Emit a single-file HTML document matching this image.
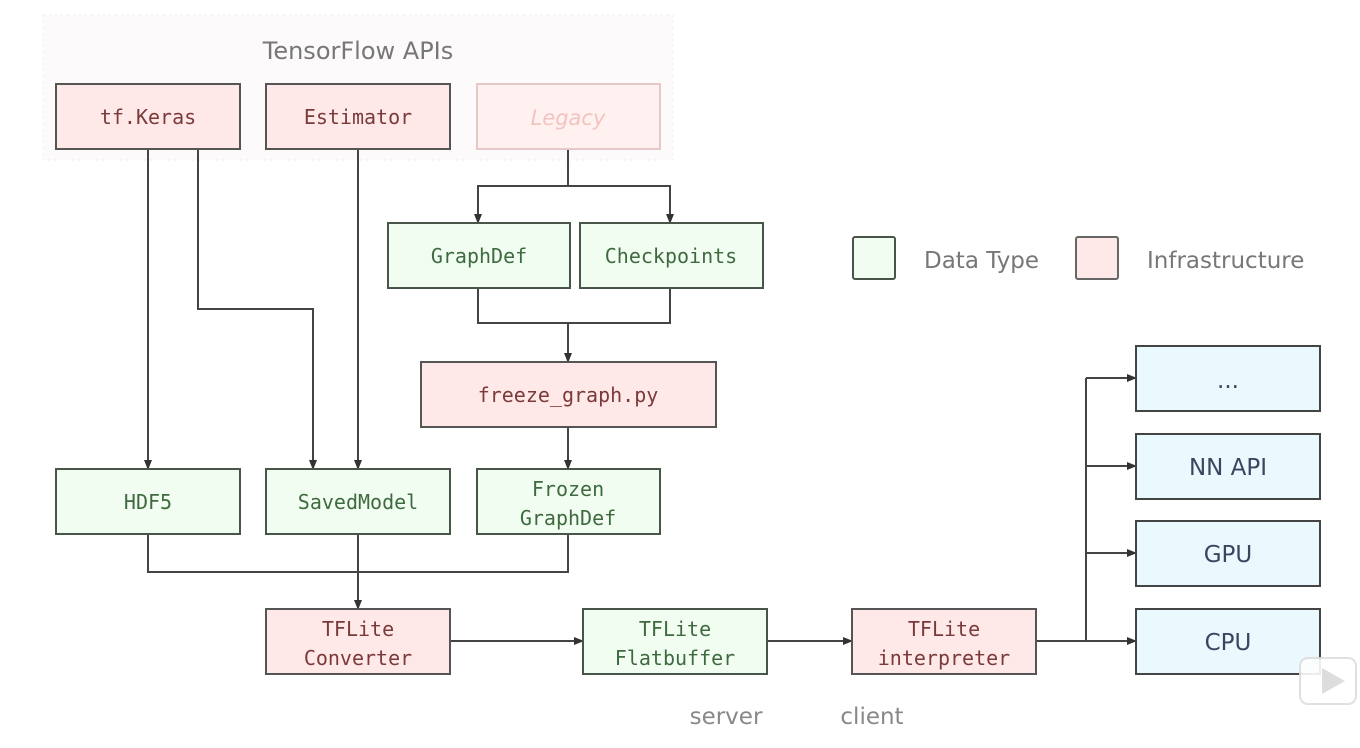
<!DOCTYPE html>
<html><head><meta charset="utf-8"><style>
html,body{margin:0;padding:0;background:#fff;}
svg{display:block;}
.m{font-family:"DejaVu Sans Mono","Liberation Mono",monospace;font-size:20px;text-anchor:middle;}
.s{font-family:"DejaVu Sans","Liberation Sans",sans-serif;text-anchor:middle;}
.r rect{fill:#ffe9e8;stroke:#555;stroke-width:2;}
.g rect{fill:#f1fdf1;stroke:#4a554a;stroke-width:2;}
.b rect{fill:#eaf9fd;stroke:#444;stroke-width:2;}
.rt{fill:#7a3a3a;}
.gt{fill:#3f6a3f;}
.bt{fill:#3a4660;font-size:23px;}
line,polyline{stroke:#444;stroke-width:2;fill:none;}
</style></head><body>
<svg width="1360" height="748" viewBox="0 0 1360 748" xmlns="http://www.w3.org/2000/svg">
<defs><marker id="a" markerWidth="10" markerHeight="10" refX="9" refY="5" orient="auto" markerUnits="userSpaceOnUse"><path d="M0,1 L10,5 L0,9 z" fill="#333"/></marker></defs>
<rect x="43" y="15" width="630" height="145" fill="#fcfafb" stroke="#eee" stroke-dasharray="2,4"/>
<text x="358" y="59" class="s" font-size="24" fill="#777">TensorFlow APIs</text>

<line x1="148" y1="149" x2="148" y2="469" marker-end="url(#a)"/>
<polyline points="198,149 198,309 313,309 313,469" marker-end="url(#a)"/>
<line x1="358" y1="149" x2="358" y2="469" marker-end="url(#a)"/>
<line x1="568" y1="149" x2="568" y2="186" stroke-width="3"/>
<polyline points="478,223 478,186 670,186 670,223"/>
<line x1="478" y1="200" x2="478" y2="223" marker-end="url(#a)"/>
<line x1="670" y1="200" x2="670" y2="223" marker-end="url(#a)"/>
<polyline points="478,288 478,323 670,323 670,288"/>
<line x1="568" y1="323" x2="568" y2="362" marker-end="url(#a)" stroke-width="2.5"/>
<line x1="568" y1="427" x2="568" y2="469" marker-end="url(#a)"/>
<polyline points="148,534 148,572 568,572 568,534"/>
<line x1="358" y1="534" x2="358" y2="609" marker-end="url(#a)" stroke-width="3"/>
<line x1="450" y1="641" x2="583" y2="641" marker-end="url(#a)"/>
<line x1="767" y1="641" x2="852" y2="641" marker-end="url(#a)" stroke="#777"/>
<line x1="1036" y1="641" x2="1086" y2="641" stroke-width="3"/>
<line x1="1086" y1="378" x2="1086" y2="641"/>
<line x1="1086" y1="378" x2="1136" y2="378" marker-end="url(#a)"/>
<line x1="1086" y1="466" x2="1136" y2="466" marker-end="url(#a)"/>
<line x1="1086" y1="553" x2="1136" y2="553" marker-end="url(#a)"/>
<line x1="1086" y1="641" x2="1136" y2="641" marker-end="url(#a)"/>

<g class="r"><rect x="56" y="84" width="184" height="65"/><text x="148" y="124" class="m rt">tf.Keras</text></g>
<g class="r"><rect x="266" y="84" width="184" height="65"/><text x="358" y="124" class="m rt">Estimator</text></g>
<g><rect x="477" y="84" width="183" height="65" fill="#fff1f0" stroke="#e6c8c8" stroke-width="2"/><text x="568" y="125" class="s" font-size="21" font-style="italic" fill="#f2c4c0">Legacy</text></g>
<g class="g"><rect x="388" y="223" width="182" height="65"/><text x="479" y="263" class="m gt">GraphDef</text></g>
<g class="g"><rect x="580" y="223" width="183" height="65"/><text x="671" y="263" class="m gt">Checkpoints</text></g>
<g class="r"><rect x="421" y="362" width="295" height="65"/><text x="568" y="402" class="m rt">freeze_graph.py</text></g>
<g class="g"><rect x="56" y="469" width="184" height="65"/><text x="148" y="509" class="m gt">HDF5</text></g>
<g class="g"><rect x="266" y="469" width="184" height="65"/><text x="358" y="509" class="m gt">SavedModel</text></g>
<g class="g"><rect x="477" y="469" width="183" height="65"/><text x="568" y="496" class="m gt">Frozen</text><text x="568" y="525" class="m gt">GraphDef</text></g>
<g class="r"><rect x="266" y="609" width="184" height="65"/><text x="358" y="636" class="m rt">TFLite</text><text x="358" y="665" class="m rt">Converter</text></g>
<g class="g"><rect x="583" y="609" width="184" height="65"/><text x="675" y="636" class="m gt">TFLite</text><text x="675" y="665" class="m gt">Flatbuffer</text></g>
<g class="r"><rect x="852" y="609" width="184" height="65"/><text x="944" y="636" class="m rt">TFLite</text><text x="944" y="665" class="m rt">interpreter</text></g>

<g class="b"><rect x="1136" y="346" width="184" height="65"/><text x="1228" y="388" class="s bt" font-size="16">...</text></g>
<g class="b"><rect x="1136" y="434" width="184" height="65"/><text x="1228" y="475" class="s bt">NN API</text></g>
<g class="b"><rect x="1136" y="521" width="184" height="65"/><text x="1228" y="562" class="s bt">GPU</text></g>
<g class="b"><rect x="1136" y="609" width="184" height="65"/><text x="1228" y="650" class="s bt">CPU</text></g>

<rect x="853" y="237" width="42" height="42" fill="#f1fdf1" stroke="#4a554a" stroke-width="2" rx="2"/>
<text x="924" y="268" font-family="DejaVu Sans, Liberation Sans, sans-serif" font-size="23" fill="#777">Data Type</text>
<rect x="1076" y="237" width="42" height="42" fill="#ffe9e8" stroke="#666" stroke-width="2" rx="2"/>
<text x="1147" y="268" font-family="DejaVu Sans, Liberation Sans, sans-serif" font-size="23" fill="#777">Infrastructure</text>

<text x="726" y="724" class="s" font-size="23" fill="#888">server</text>
<text x="872" y="724" class="s" font-size="23" fill="#888">client</text>

<rect x="1300" y="658" width="56" height="46" rx="8" fill="#fff" stroke="#ddd" stroke-width="2" opacity="0.9"/>
<path d="M1322,668 L1345,681 L1322,694 z" fill="#ddd"/>
</svg>
</body></html>
